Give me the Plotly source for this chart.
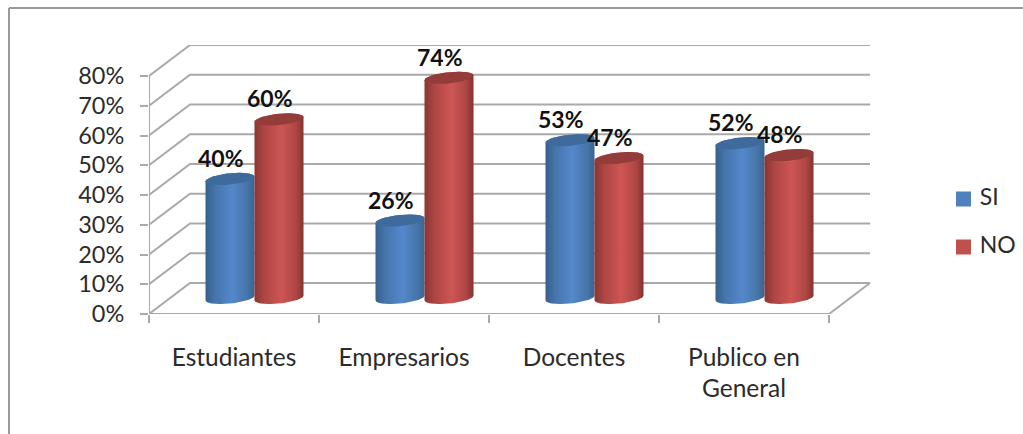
import numpy as np
import plotly.graph_objects as go

categories = ["Estudiantes", "Empresarios", "Docentes", "Publico en<br>General"]
si_values = [40, 26, 53, 52]
no_values = [60, 74, 47, 48]
y_ticks = [0, 10, 20, 30, 40, 50, 60, 70, 80]
series_names = ["SI", "NO"]

W, H = 1023, 434
L, T, B = 149, 45, 314
PX_X = 170.0
PX_Y = 238 / 80
DX, DY = 41 / PX_X, 31 / PX_Y
GRID = "#a9a9a9"
FONT = "Lato"
TXT = "#2b2b2b"

BLUE_SCALE = [[0, "#365f8e"], [0.2, "#4675ab"], [0.55, "#5488cb"], [0.85, "#4675a8"], [1, "#3a6493"]]
RED_SCALE = [[0, "#8a3532"], [0.2, "#ad4644"], [0.55, "#cd5654"], [0.85, "#ad4644"], [1, "#843230"]]
BLUE_TOP = "#3f6b9c"
RED_TOP = "#943c3a"

fig = go.Figure()


def line(xs, ys):
    fig.add_trace(go.Scatter(x=xs, y=ys, mode="lines", line=dict(color=GRID, width=2),
                             hoverinfo="skip", showlegend=False, cliponaxis=False))


n = len(categories)
for v in y_ticks:
    line([0, DX, n + DX], [v, v + DY, v + DY])
line([0, 0], [0, y_ticks[-1]])
line([0, n, n + DX], [0, 0, DY])

A = 24.5 / PX_X
BE = 1.9
TILT = 0.8
CDX, CDY = 0.5 * DX, 5.4


def ell(cx, cy, t):
    return cx + A * np.cos(t), cy + BE * np.sin(t) + TILT * np.cos(t)


def cylinder(cx, value, scale, top_color, name):
    t1 = np.linspace(np.pi, 2 * np.pi, 40)
    t2 = np.linspace(0, np.pi, 40)
    x1, y1 = ell(cx, CDY, t1)
    x2, y2 = ell(cx, CDY + value, t2)
    fig.add_trace(go.Scatter(x=np.r_[x1, x2], y=np.r_[y1, y2], fill="toself", mode="lines",
                             line=dict(width=0, color=scale[2][1]),
                             fillgradient=dict(type="horizontal", colorscale=scale),
                             name=name, hoverinfo="skip", showlegend=False))
    t3 = np.linspace(0, 2 * np.pi, 80)
    x3, y3 = ell(cx, CDY + value, t3)
    fig.add_trace(go.Scatter(x=x3, y=y3, fill="toself", mode="lines", fillcolor=top_color,
                             line=dict(width=0, color=top_color), hoverinfo="skip", showlegend=False))


annotations = []
for i in range(n):
    c = i + 0.5 + CDX
    for val, off, scale, top, name in [(si_values[i], -A, BLUE_SCALE, BLUE_TOP, series_names[0]),
                                       (no_values[i], A, RED_SCALE, RED_TOP, series_names[1])]:
        cylinder(c + off, val, scale, top, name)
        annotations.append(dict(x=c + off, y=val + CDY, xref="x", yref="y", text=f"{val}%", showarrow=False,
                                xshift=-9, yshift=21, font=dict(family=FONT, size=23, color="#111111", weight="bold")))

# legend swatches and labels
for name, color, ypix in [(series_names[0], "#4f81bd", 199), (series_names[1], "#c0504d", 247)]:
    fig.add_trace(go.Scatter(x=[(963.5 - L) / PX_X], y=[(B - ypix) / PX_Y], mode="markers+text",
                             marker=dict(symbol="square", size=15, color=color, line=dict(width=0)),
                             text=[" " + name], textposition="middle right",
                             textfont=dict(family=FONT, size=23, color=TXT),
                             cliponaxis=False, hoverinfo="skip", showlegend=False))

fig.update_layout(
    width=W, height=H, autosize=False,
    margin=dict(l=0, r=0, t=0, b=0, autoexpand=False),
    paper_bgcolor="white", plot_bgcolor="white",
    showlegend=False,
    annotations=annotations,
    xaxis=dict(domain=[L / W, 1], range=[0, (W - L) / PX_X], showgrid=False, zeroline=False, showline=False,
               automargin=False, tickmode="array", tickvals=[i + 0.5 for i in range(n)], ticktext=categories, ticks="",
               tickfont=dict(family=FONT, size=24.5, color=TXT), ticklabelstandoff=26,
               minor=dict(tickmode="array", tickvals=list(range(n + 1)), ticks="outside", ticklen=8,
                          tickcolor=GRID, tickwidth=2, showgrid=False)),
    yaxis=dict(domain=[1 - B / H, 1 - T / H], range=[0, (B - T) / PX_Y], showgrid=False, zeroline=False, showline=False,
               automargin=False, tickmode="array", tickvals=y_ticks, ticktext=[f"{v}%" for v in y_ticks], ticks="outside", ticklen=8,
               tickcolor=GRID, tickwidth=2, tickfont=dict(family=FONT, size=23.5, color=TXT), ticklabelstandoff=11),
    shapes=[dict(type="line", xref="paper", yref="paper", x0=9 / W, x1=9 / W, y0=0, y1=1 - 8 / H,
                 line=dict(color="#9a9a9a", width=2)),
            dict(type="line", xref="paper", yref="paper", x0=9 / W, x1=1, y0=1 - 8 / H, y1=1 - 8 / H,
                 line=dict(color="#9a9a9a", width=2))],
)

fig.write_html("out.html", config=dict(displayModeBar=False),
               post_script="document.body.style.margin='0';document.body.style.overflow='hidden';")
